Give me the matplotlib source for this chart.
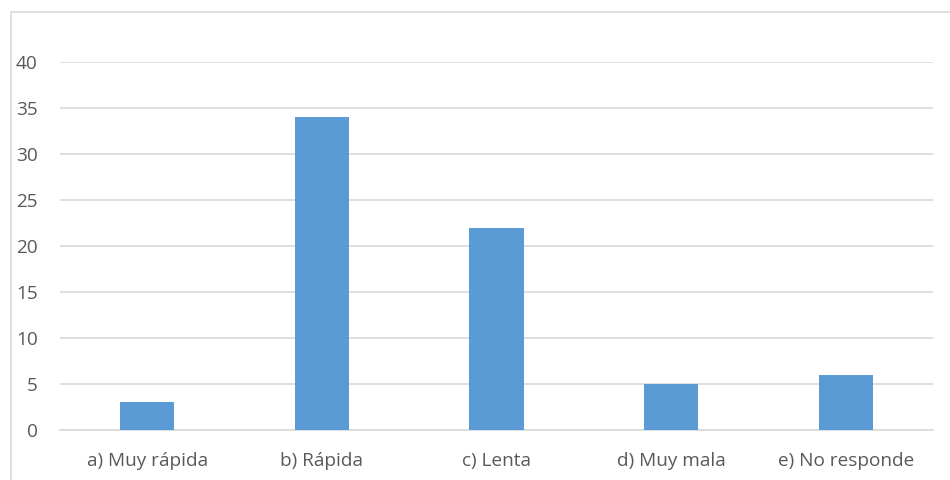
import matplotlib.pyplot as plt
from matplotlib.patches import Rectangle

categories = ['a) Muy rápida', 'b) Rápida', 'c) Lenta', 'd) Muy mala', 'e) No responde']
counts = [3, 34, 22, 5, 6]
y_ticks = [0, 5, 10, 15, 20, 25, 30, 35, 40]

BAR_COLOR = '#5B9BD5'
GRID_COLOR = '#D9D9D9'
TEXT_COLOR = '#595959'

plt.rcParams['font.family'] = ['Open Sans', 'DejaVu Sans']

fig = plt.figure(figsize=(9.5, 4.8), dpi=100)
ax = fig.add_axes([60 / 950, 50 / 480, 873 / 950, 368 / 480])

# chart frame, running off the right and bottom edges
fig.patches.append(Rectangle((11 / 950, -0.02), 1.0, 1 - 12 / 480 + 0.02,
                             transform=fig.transFigure, fill=False,
                             edgecolor=GRID_COLOR, linewidth=1.2))

x = range(len(categories))
ax.bar(x, counts, width=0.31, color=BAR_COLOR, zorder=3)

ax.set_xlim(-0.5, len(categories) - 0.5)
ax.set_ylim(0, 40)
ax.set_yticks(y_ticks)
ax.set_xticks(list(x))
ax.set_xticklabels(categories)

ax.grid(axis='y', color=GRID_COLOR, linewidth=1.2, zorder=0)
for side in ['top', 'right', 'left']:
    ax.spines[side].set_visible(False)
ax.spines['bottom'].set_color(GRID_COLOR)
ax.spines['bottom'].set_linewidth(1.2)

ax.tick_params(axis='both', length=0, colors=TEXT_COLOR, labelsize=13.7)
ax.tick_params(axis='y', pad=16)
ax.tick_params(axis='x', pad=16)

fig.savefig('out.png', dpi=100)
